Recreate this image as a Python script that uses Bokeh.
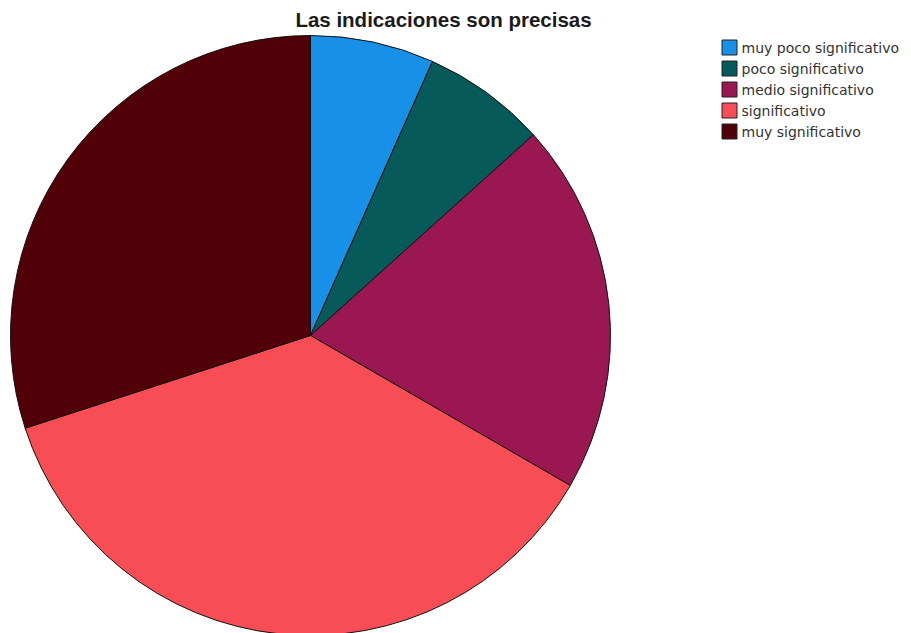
import math
from bokeh.plotting import figure
from bokeh.models import Range1d, ColumnDataSource
from bokeh.core.properties import value
from bokeh.embed import file_html
from bokeh.resources import INLINE

title = "Las indicaciones son precisas"
categories = ["muy poco significativo", "poco significativo", "medio significativo",
              "significativo", "muy significativo"]
counts = [2, 2, 6, 11, 9]
colors = ["#1790E8", "#075A5A", "#9A1751", "#F94D56", "#520008"]

W, H = 911, 633
p = figure(width=W, height=H, output_backend="svg", toolbar_location=None,
           x_range=Range1d(0, W), y_range=Range1d(-H, 0), min_border=0)
p.axis.visible = False
p.grid.visible = False
p.outline_line_color = None
p.background_fill_color = "white"
p.border_fill_color = "white"

total = sum(counts)
starts, ends = [], []
cum = 0
for c in counts:
    starts.append(math.pi / 2 - 2 * math.pi * cum / total)
    cum += c
    ends.append(math.pi / 2 - 2 * math.pi * cum / total)

src = ColumnDataSource(dict(start=starts, end=ends, color=colors, cat=categories))
cx, cy, r = 310, -335, 300
p.wedge(x=cx, y=cy, radius=r, start_angle="start", end_angle="end", direction="clock",
        fill_color="color", line_color="#111111", line_width=1, source=src)

p.text(x=[443], y=[-19], text=[title], text_font=value("Liberation Sans"),
       text_font_style="bold", text_font_size="20.5px", text_align="center",
       text_baseline="middle", text_color="#1a1a1a")

lx = 729
ly = [-(47 + 21 * i) for i in range(len(categories))]
p.rect(x=[lx] * len(categories), y=ly, width=15, height=15, fill_color=colors,
       line_color="#222222", line_width=1)
p.text(x=[741] * len(categories), y=ly, text=categories, text_font=value("DejaVu Sans"),
       text_font_size="14px", text_baseline="middle", text_color="#333333")

open("out.html", "w").write(file_html(p, INLINE))
